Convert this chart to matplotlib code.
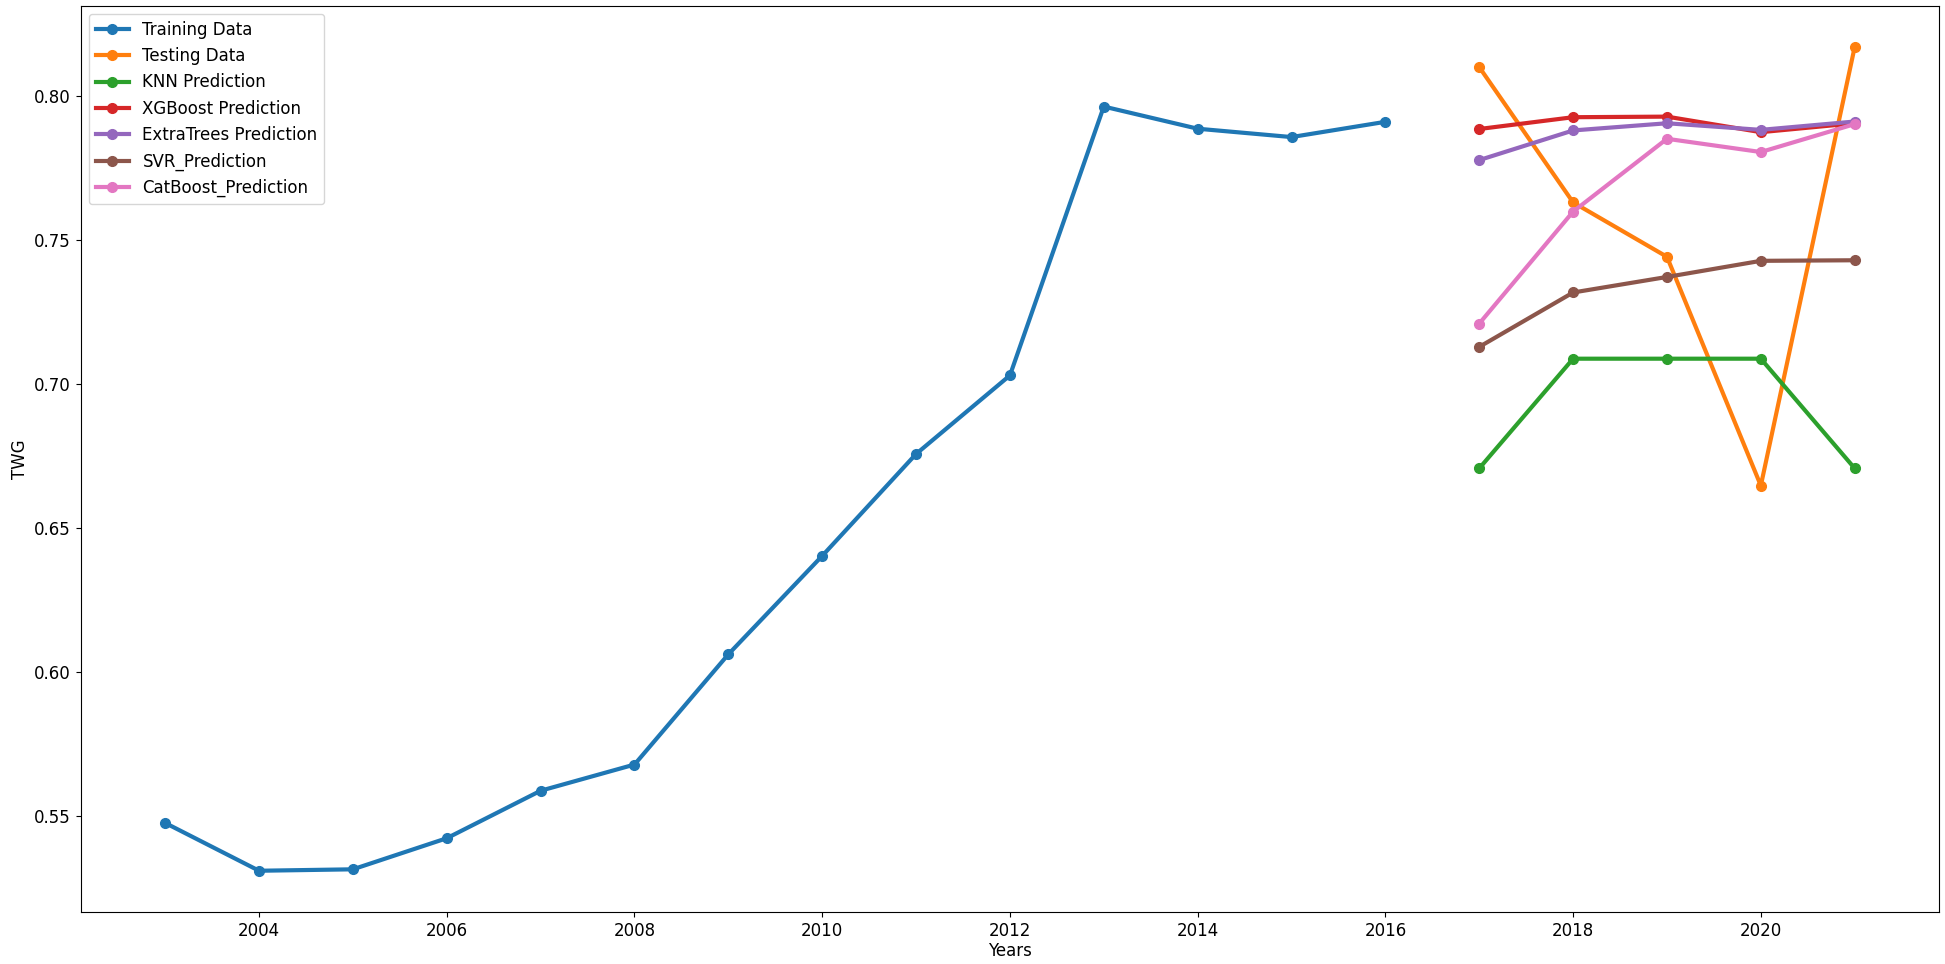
import matplotlib
matplotlib.use('Agg')
import matplotlib.pyplot as plt
from matplotlib.ticker import MultipleLocator

plt.rc('font', size=12)

# training period
train_years = [2003, 2004, 2005, 2006, 2007, 2008, 2009, 2010, 2011, 2012, 2013, 2014, 2015, 2016]
train_twg = [0.5476, 0.5310, 0.5315, 0.5423, 0.5588, 0.5679, 0.6062, 0.6404, 0.6758, 0.7031,
             0.7965, 0.7888, 0.7859, 0.7912]

# testing period and model predictions
test_years = [2017, 2018, 2019, 2020, 2021]
test_twg = [0.8102, 0.7632, 0.7443, 0.6648, 0.8172]
knn_pred = [0.6708, 0.7089, 0.7089, 0.7089, 0.6708]
xgb_pred = [0.7887, 0.7928, 0.7930, 0.7876, 0.7907]
et_pred = [0.7779, 0.7882, 0.7907, 0.7884, 0.7913]
svr_pred = [0.7130, 0.7319, 0.7373, 0.7429, 0.7431]
cat_pred = [0.7211, 0.7600, 0.7853, 0.7807, 0.7904]

fig, ax = plt.subplots(figsize=(19.45, 9.64), dpi=100)
fig.subplots_adjust(left=0.0415, right=0.997, bottom=0.054, top=0.994)

style = dict(marker='o', linewidth=3, markersize=7)
ax.plot(train_years, train_twg, label='Training Data', **style)
ax.plot(test_years, test_twg, label='Testing Data', **style)
ax.plot(test_years, knn_pred, label='KNN Prediction', **style)
ax.plot(test_years, xgb_pred, label='XGBoost Prediction', **style)
ax.plot(test_years, et_pred, label='ExtraTrees Prediction', **style)
ax.plot(test_years, svr_pred, label='SVR_Prediction', **style)
ax.plot(test_years, cat_pred, label='CatBoost_Prediction', **style)

ax.xaxis.set_major_locator(MultipleLocator(2))
ax.set_xlabel('Years', labelpad=2)
ax.set_ylabel('TWG')
ax.legend(loc='upper left')

fig.savefig('out.png', dpi=100)
